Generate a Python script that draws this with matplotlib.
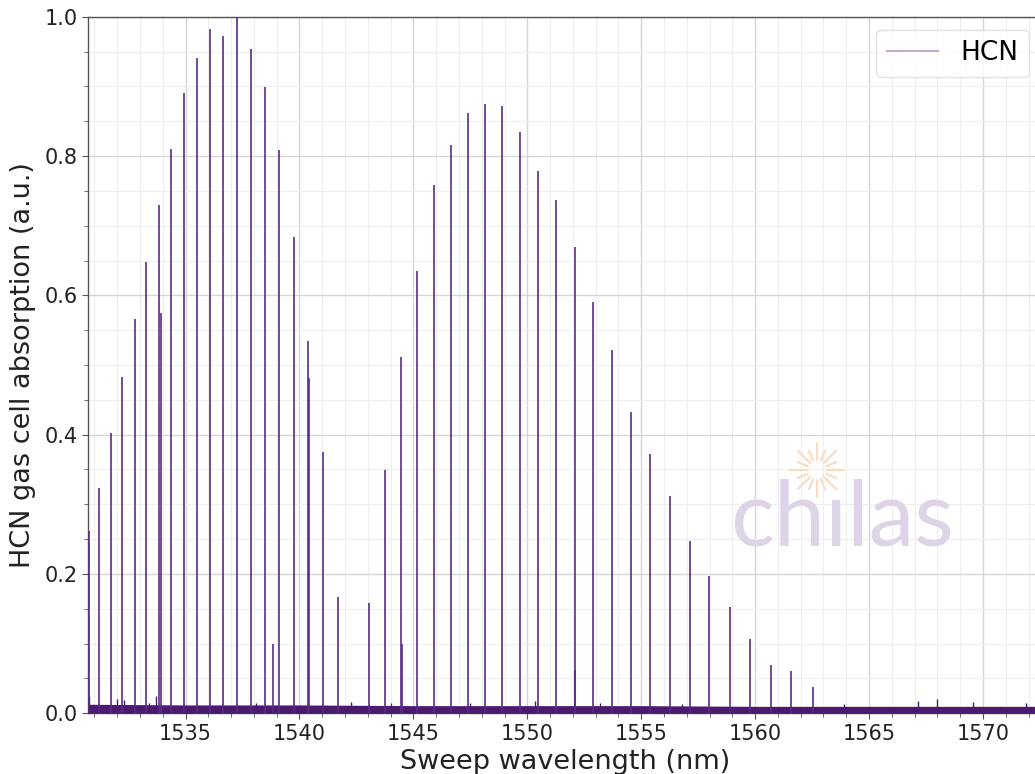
import numpy as np
import matplotlib
matplotlib.use("Agg")
from matplotlib import pyplot as plt
from matplotlib.lines import Line2D
from matplotlib.ticker import MultipleLocator

# absorption lines (nm, a.u.)
peak_wl = [1530.76, 1531.22, 1531.72, 1532.23, 1532.77, 1533.27, 1533.84, 1533.91,
           1534.38, 1534.93, 1535.52, 1536.08, 1536.66, 1537.26, 1537.86, 1538.49,
           1538.83, 1539.11, 1539.74, 1540.39, 1540.43, 1541.04, 1541.70,
           1543.07, 1543.77, 1544.46, 1544.48, 1545.18, 1545.90, 1546.64, 1547.40,
           1548.15, 1548.91, 1549.68, 1550.48, 1551.26, 1552.09, 1552.11, 1552.89,
           1553.73, 1554.54, 1555.40, 1556.26, 1557.15, 1557.99, 1558.90, 1559.78,
           1560.69, 1561.59, 1562.53]
peak_h = [0.262, 0.324, 0.402, 0.483, 0.566, 0.648, 0.729, 0.575,
          0.810, 0.890, 0.940, 0.982, 0.972, 1.000, 0.954, 0.899,
          0.099, 0.809, 0.684, 0.535, 0.482, 0.375, 0.167,
          0.159, 0.349, 0.511, 0.099, 0.635, 0.758, 0.816, 0.862,
          0.875, 0.872, 0.834, 0.779, 0.737, 0.669, 0.062, 0.591,
          0.522, 0.432, 0.372, 0.312, 0.247, 0.197, 0.153, 0.107,
          0.070, 0.061, 0.038]

# little spikes sticking out of the noise floor
bump_wl = [1530.77, 1532.00, 1532.28, 1533.38, 1533.69, 1538.10, 1542.28, 1544.00,
           1547.47, 1550.36, 1553.20, 1556.80, 1563.90, 1567.13, 1568.00, 1569.54,
           1571.90]
bump_h = [0.025, 0.021, 0.019, 0.015, 0.025, 0.015, 0.016, 0.015,
          0.015, 0.018, 0.015, 0.014, 0.014, 0.017, 0.020, 0.016,
          0.015]

# noise floor level
floor_wl = [1530.7, 1535, 1540, 1545, 1550, 1555, 1560, 1565, 1570, 1572.7]
floor_lvl = [0.013, 0.012, 0.012, 0.011, 0.011, 0.011, 0.010, 0.010, 0.010, 0.010]

purple = "#5b2c86"
dark = "#4a1a6e"

fig = plt.figure(figsize=(10.35, 7.74), dpi=100)
ax = fig.add_axes([88/1035, 1-713.3/774, (1042-88)/1035, 696.6/774])

ax.fill_between(floor_wl, 0, floor_lvl, color=dark, lw=0, zorder=3)
ax.vlines(bump_wl, 0, bump_h, color=dark, lw=1.0, zorder=3)
ax.vlines(peak_wl, 0, peak_h, color=purple, lw=1.2, zorder=3, label="HCN")

ax.set_xlim(1530.72, 1572.59)
ax.set_ylim(0, 1.0)
ax.xaxis.set_major_locator(MultipleLocator(5))
ax.xaxis.set_minor_locator(MultipleLocator(1))
ax.yaxis.set_major_locator(MultipleLocator(0.2))
ax.yaxis.set_minor_locator(MultipleLocator(0.05))

ax.grid(which="major", color="#d6d6d6", lw=1.0, zorder=0)
ax.grid(which="minor", color="#eeeeee", lw=0.8, zorder=0)
ax.set_axisbelow(True)

for s in ax.spines.values():
    s.set_color("#555555")
    s.set_linewidth(1.0)
ax.tick_params(which="major", length=4, color="#555555", labelsize=15, labelcolor="#222222")
ax.tick_params(which="minor", length=3, color="#555555")

ax.set_xlabel("Sweep wavelength (nm)", fontsize=19.5, color="#222222", labelpad=4)
ax.set_ylabel("HCN gas cell absorption (a.u.)", fontsize=19.5, color="#222222", labelpad=6)

leg = ax.legend(loc="upper right", fontsize=19, frameon=True, fancybox=True)
leg.get_frame().set_edgecolor("#dddddd")
for h in leg.legend_handles:
    h.set_color("#b89ad0")

# watermark logo
fig.text(842/1035, 1-545/774, "ch\u0131las", fontsize=66, family="Lato",
         color="#ddd4e7", ha="center", va="baseline", zorder=0)
cx, cy = 817, 470
for k in range(16):
    a = np.pi * k / 8
    r0 = 10
    r1 = 27 if k % 2 == 0 else 21
    xs = [(cx + r0*np.cos(a))/1035, (cx + r1*np.cos(a))/1035]
    ys = [1-(cy - r0*np.sin(a))/774, 1-(cy - r1*np.sin(a))/774]
    fig.add_artist(Line2D(xs, ys, color="#f8dcc4", lw=1.6, solid_capstyle="round"))

fig.savefig("out.png", dpi=100)
